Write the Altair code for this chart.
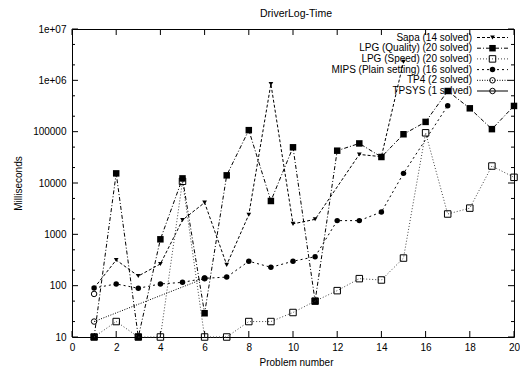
import altair as alt
import pandas as pd

# ---------------- data ----------------
problems = list(range(1, 21))

series_names = [
    "Sapa (14 solved)",
    "LPG (Quality) (20 solved)",
    "LPG (Speed) (20 solved)",
    "MIPS (Plain setting) (16 solved)",
    "TP4 (2 solved)",
    "TPSYS (1 solved)",
]

sapa = [90, 316, 154, 265, 1900, 4150, 254, 2410, 850000, 1600,
        1960, None, 36000, 32600, 2300000, None, None, None, None, None]
lpg_quality = [10, 15400, 10, 800, 12300, 29, 14100, 107000, 4460, 49600,
               50, 42600, 59000, 32100, 89000, 155000, 620000, 285000, 112000, 317000]
lpg_speed = [10, 20, 10, 10, 10800, 10, 10, 20, 20, 30,
             50, 80, 137, 129, 345, 95000, 2490, 3240, 21400, 12900]
mips = [90, 108, 89, 108, 116, 139, 147, 299, 228, 299,
        367, 1850, 1850, 2720, 15400, None, 320000, None, None, None]
tp4 = [20, None, None, None, None, 139, None, None, None, None,
       None, None, None, None, None, None, None, None, None, None]
tpsys = [69, None, None, None, None, None, None, None, None, None,
         None, None, None, None, None, None, None, None, None, None]

series_values = [sapa, lpg_quality, lpg_speed, mips, tp4, tpsys]

chart_title = "DriverLog-Time"
x_ticks = [0, 2, 4, 6, 8, 10, 12, 14, 16, 18, 20]
y_major = [10, 100, 1000, 10000, 100000, 1000000, 10000000]
y_minor = [20, 50, 200, 500, 2000, 5000, 20000, 50000, 200000, 500000, 2000000, 5000000]

# ---------------- styles ----------------
FONT = "Liberation Sans"
W, H = 442, 308
styles = [
    dict(dash=[3, 2], color="black", shape="triangle-down", size=22, filled=True),
    dict(dash=[4, 2, 1, 2], color="black", shape="square", size=42, filled=True),
    dict(dash=[1, 2], color="#444444", shape="square", size=42, filled=False),
    dict(dash=[2, 3], color="black", shape="circle", size=30, filled=True),
    dict(dash=[1, 1.5], color="black", shape="circle", size=30, filled=False),
    dict(dash=[1, 0], color="black", shape="circle", size=30, filled=False),
]

xs = alt.Scale(domain=[0, 20], nice=False, zero=False)
ys = alt.Scale(type="log", domain=[10, 10000000], nice=False)

xaxis = alt.Axis(values=x_ticks, format="d", tickSize=0, domain=False, grid=False,
                 labelPadding=5, labelFlush=False, labelOverlap=False,
                 labelFont=FONT, labelFontSize=10, labelColor="black",
                 title="Problem number", titleFont=FONT, titleFontSize=10,
                 titleFontWeight="normal", titleColor="black",
                 titleY=25, titleX=224, titleBaseline="middle")
yaxis = alt.Axis(values=y_major, tickSize=0, domain=False, grid=False,
                 labelExpr="datum.value >= 9999999 ? '1e+07' : (datum.value >= 999999 ? '1e+06' : format(datum.value, 'd'))",
                 labelPadding=6, labelFlush=False, labelOverlap=False,
                 labelFont=FONT, labelFontSize=10, labelColor="black",
                 title="Milliseconds", titleFont=FONT, titleFontSize=10,
                 titleFontWeight="normal", titleColor="black",
                 titleX=-54, titleY=H / 2, titleBaseline="middle")

xenc = alt.X("x:Q", scale=xs, axis=xaxis)
yenc = alt.Y("y:Q", scale=ys, axis=yaxis)

layers = []

# frame ticks (inward, mirrored), positioned by the scales
ymaj = pd.DataFrame({"y": y_major})
ymin = pd.DataFrame({"y": y_minor})
xt = pd.DataFrame({"x": x_ticks})
layers.append(alt.Chart(ymaj).mark_rule(color="black", strokeWidth=1).encode(y=yenc, x=alt.value(0), x2=alt.value(6)))
layers.append(alt.Chart(ymaj).mark_rule(color="black", strokeWidth=1).encode(y=yenc, x=alt.value(W - 6), x2=alt.value(W)))
layers.append(alt.Chart(ymin).mark_rule(color="black", strokeWidth=1).encode(y=yenc, x=alt.value(0), x2=alt.value(3)))
layers.append(alt.Chart(ymin).mark_rule(color="black", strokeWidth=1).encode(y=yenc, x=alt.value(W - 3), x2=alt.value(W)))
layers.append(alt.Chart(xt).mark_rule(color="black", strokeWidth=1).encode(x=xenc, y=alt.value(H - 6), y2=alt.value(H)))
layers.append(alt.Chart(xt).mark_rule(color="black", strokeWidth=1).encode(x=xenc, y=alt.value(0), y2=alt.value(6)))

# series
for name, vals, st in zip(series_names, series_values, styles):
    rows = [(p, v) for p, v in zip(problems, vals) if v is not None]
    df = pd.DataFrame({"x": [r[0] for r in rows], "y": [r[1] for r in rows], "s": name})
    if len(df) > 1:
        layers.append(alt.Chart(df).mark_line(color=st["color"], strokeWidth=1,
                                              strokeDash=st["dash"]).encode(x=xenc, y=yenc))
    layers.append(alt.Chart(df).mark_point(shape=st["shape"], size=st["size"],
                                           filled=st["filled"], color="black",
                                           strokeWidth=1, opacity=1).encode(x=xenc, y=yenc))

# legend (top right, text then sample)
legend_y0, legend_dy = 8.5, 10.7
for i, (name, st) in enumerate(zip(series_names, styles)):
    ly = legend_y0 + legend_dy * i
    tdf = pd.DataFrame({"t": [name]})
    layers.append(alt.Chart(tdf).mark_text(align="right", baseline="middle", font=FONT,
                                           fontSize=10, color="black").encode(
        text="t:N", x=alt.value(400), y=alt.value(ly)))
    layers.append(alt.Chart(tdf).mark_rule(color=st["color"], strokeWidth=1,
                                           strokeDash=st["dash"]).encode(
        x=alt.value(405), x2=alt.value(436), y=alt.value(ly)))
    layers.append(alt.Chart(tdf).mark_point(shape=st["shape"], size=st["size"],
                                            filled=st["filled"], color="black",
                                            strokeWidth=1, opacity=1).encode(
        x=alt.value(420.5), y=alt.value(ly)))

# title as a text mark above the plot area
layers.append(alt.Chart(pd.DataFrame({"t": [chart_title]})).mark_text(
    align="center", baseline="middle", font=FONT, fontSize=10.5, color="black").encode(
    text="t:N", x=alt.value(224), y=alt.value(-15)))

chart = alt.layer(*layers).properties(
    width=W, height=H,
    autosize=alt.AutoSizeParams(type="none"),
    padding={"left": 64, "top": 21, "right": 6, "bottom": 30},
    background="white",
).configure_view(stroke="black", strokeWidth=1)

chart.save("out.html", embed_options={"renderer": "svg", "actions": False})
